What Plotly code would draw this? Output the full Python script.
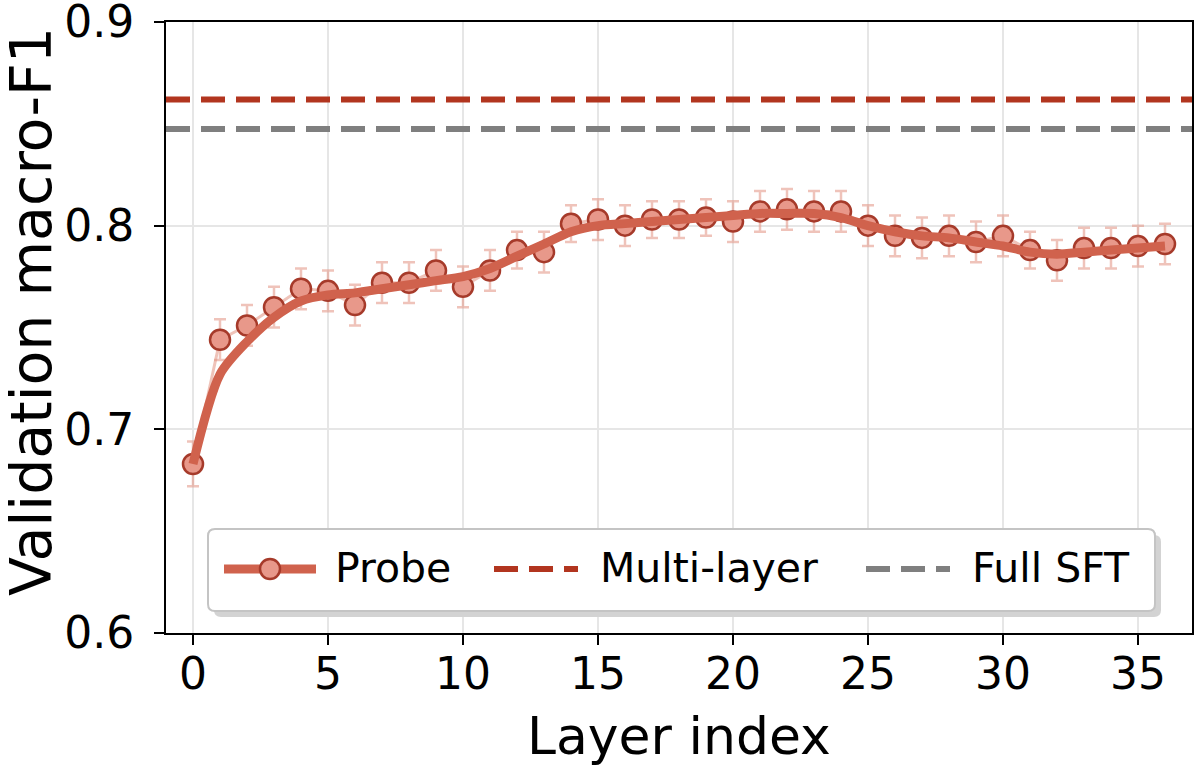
import plotly.graph_objects as go

# layer-wise probe results
layers = list(range(37))
probe_f1 = [0.683, 0.744, 0.751, 0.760, 0.769, 0.768, 0.761, 0.772, 0.772, 0.778,
            0.770, 0.778, 0.788, 0.787, 0.801, 0.803, 0.800, 0.803, 0.803, 0.804,
            0.802, 0.807, 0.808, 0.807, 0.807, 0.800, 0.795, 0.794, 0.795, 0.792,
            0.795, 0.788, 0.783, 0.789, 0.789, 0.790, 0.791]
probe_err = [0.011, 0.010, 0.010, 0.010, 0.010, 0.010, 0.010, 0.010, 0.010, 0.010,
             0.010, 0.010, 0.009, 0.010, 0.009, 0.010, 0.010, 0.009, 0.009, 0.009,
             0.010, 0.010, 0.010, 0.010, 0.010, 0.010, 0.010, 0.010, 0.010, 0.010,
             0.010, 0.009, 0.010, 0.010, 0.010, 0.010, 0.010]
# smoothed trend line
probe_smooth = [0.683, 0.727, 0.743, 0.755, 0.763, 0.766, 0.767, 0.769, 0.771, 0.773,
                0.775, 0.779, 0.785, 0.791, 0.797, 0.800, 0.801, 0.802, 0.803, 0.804,
                0.805, 0.806, 0.806, 0.806, 0.804, 0.800, 0.797, 0.795, 0.794, 0.792,
                0.790, 0.787, 0.786, 0.787, 0.788, 0.789, 0.790]
multi_layer = 0.862
full_sft = 0.8475

legend_names = ["Probe", "Multi-layer", "Full SFT"]

FONT = "DejaVu Sans"
PROBE = "#D0624D"
MARKER_FILL = "#E8988A"
MARKER_EDGE = "#A63A2A"
MULTI = "#B2351F"
GRAY = "#7F7F7F"
DASH = "24px,11px"

W, H = 1198, 770
ML, MR, MT, MB = 166, 6, 22, 137
PW, PH = W - ML - MR, H - MT - MB


def px(x):
    return (x - ML) / PW


def py(y):
    return (H - MB - y) / PH


def rounded_rect(x0, y0, x1, y1, r):
    # path in paper coords from pixel corners
    rx, ry = r / PW, r / PH
    a, b, c, d = px(x0), py(y1), px(x1), py(y0)
    return (f"M{a + rx},{b} L{c - rx},{b} Q{c},{b} {c},{b + ry} "
            f"L{c},{d - ry} Q{c},{d} {c - rx},{d} L{a + rx},{d} "
            f"Q{a},{d} {a},{d - ry} L{a},{b + ry} Q{a},{b} {a + rx},{b} Z")


fig = go.Figure()

# raw per-layer scores with error bars
fig.add_trace(go.Scatter(
    x=layers, y=probe_f1, mode="lines+markers", showlegend=False,
    line=dict(color="rgba(226,145,128,0.55)", width=3),
    marker=dict(size=20, color=MARKER_FILL, line=dict(color=MARKER_EDGE, width=2.5)),
    error_y=dict(type="data", array=probe_err, visible=True,
                 color="rgba(228,155,140,0.6)", thickness=2.5, width=6),
))
# smoothed curve on top
fig.add_trace(go.Scatter(
    x=layers, y=probe_smooth, mode="lines", showlegend=False,
    line=dict(color=PROBE, width=9, shape="spline", smoothing=0.8),
))

fig.add_trace(go.Scatter(
    x=[-1, 37], y=[multi_layer, multi_layer], mode="lines", showlegend=False,
    line=dict(color=MULTI, width=6, dash=DASH),
))
fig.add_trace(go.Scatter(
    x=[-1, 37], y=[full_sft, full_sft], mode="lines", showlegend=False,
    line=dict(color=GRAY, width=6, dash=DASH),
))

# hand-drawn legend (matplotlib style, with shadow)
fig.add_shape(type="path", xref="paper", yref="paper", layer="above",
              path=rounded_rect(214, 535, 1161, 617, 7),
              fillcolor="#D3D3D3", line=dict(width=0))
fig.add_shape(type="path", xref="paper", yref="paper", layer="above",
              path=rounded_rect(208, 529, 1155, 611, 7),
              fillcolor="white", line=dict(color="#C4C4C4", width=2))

sym_y = py(569)
fig.add_shape(type="line", xref="paper", yref="paper", layer="above",
              x0=px(224), x1=px(316), y0=sym_y, y1=sym_y,
              line=dict(color=PROBE, width=9))
fig.add_shape(type="circle", xref="paper", yref="paper", layer="above",
              x0=px(260), x1=px(280), y0=py(579), y1=py(559),
              fillcolor=MARKER_FILL, line=dict(color=MARKER_EDGE, width=2.5))
fig.add_shape(type="line", xref="paper", yref="paper", layer="above",
              x0=px(494), x1=px(578), y0=sym_y, y1=sym_y,
              line=dict(color=MULTI, width=6, dash=DASH))
fig.add_shape(type="line", xref="paper", yref="paper", layer="above",
              x0=px(866), x1=px(950), y0=sym_y, y1=sym_y,
              line=dict(color=GRAY, width=6, dash=DASH))

for name, xpix in zip(legend_names, [333, 598, 970]):
    fig.add_annotation(x=px(xpix), y=py(568), xref="paper", yref="paper",
                       text=name, showarrow=False, xanchor="left", yanchor="middle",
                       font=dict(family=FONT, size=41, color="black"))

# axis titles
fig.add_annotation(x=px(679), y=py(736), xref="paper", yref="paper",
                   text="Layer index", showarrow=False, xanchor="center", yanchor="middle",
                   font=dict(family=FONT, size=52, color="black"))
fig.add_annotation(x=px(31), y=py(312), xref="paper", yref="paper",
                   text="Validation macro-F1", showarrow=False, textangle=-90,
                   xanchor="center", yanchor="middle",
                   font=dict(family=FONT, size=57, color="black"))

axis_common = dict(
    showline=True, linecolor="black", linewidth=2, mirror=True,
    showgrid=True, gridcolor="#E6E6E6", gridwidth=1.5,
    ticks="outside", ticklen=10, tickwidth=2, tickcolor="black",
    tickfont=dict(family=FONT, size=44, color="black"),
    zeroline=False, automargin=False, ticklabeloverflow="allow",
)

fig.update_layout(
    width=W, height=H,
    margin=dict(l=ML, r=MR, t=MT, b=MB),
    paper_bgcolor="white", plot_bgcolor="white",
    font=dict(family=FONT, color="black"),
    showlegend=False,
    xaxis=dict(axis_common, range=[-1, 37], tickvals=[0, 5, 10, 15, 20, 25, 30, 35],
               ticklabelstandoff=-9),
    yaxis=dict(axis_common, range=[0.6, 0.9], tickvals=[0.6, 0.7, 0.8, 0.9],
               tickformat=".1f", ticklabelstandoff=11),
)

fig.write_html("out.html", config={"displayModeBar": False},
               post_script="document.body.style.margin='0';")
